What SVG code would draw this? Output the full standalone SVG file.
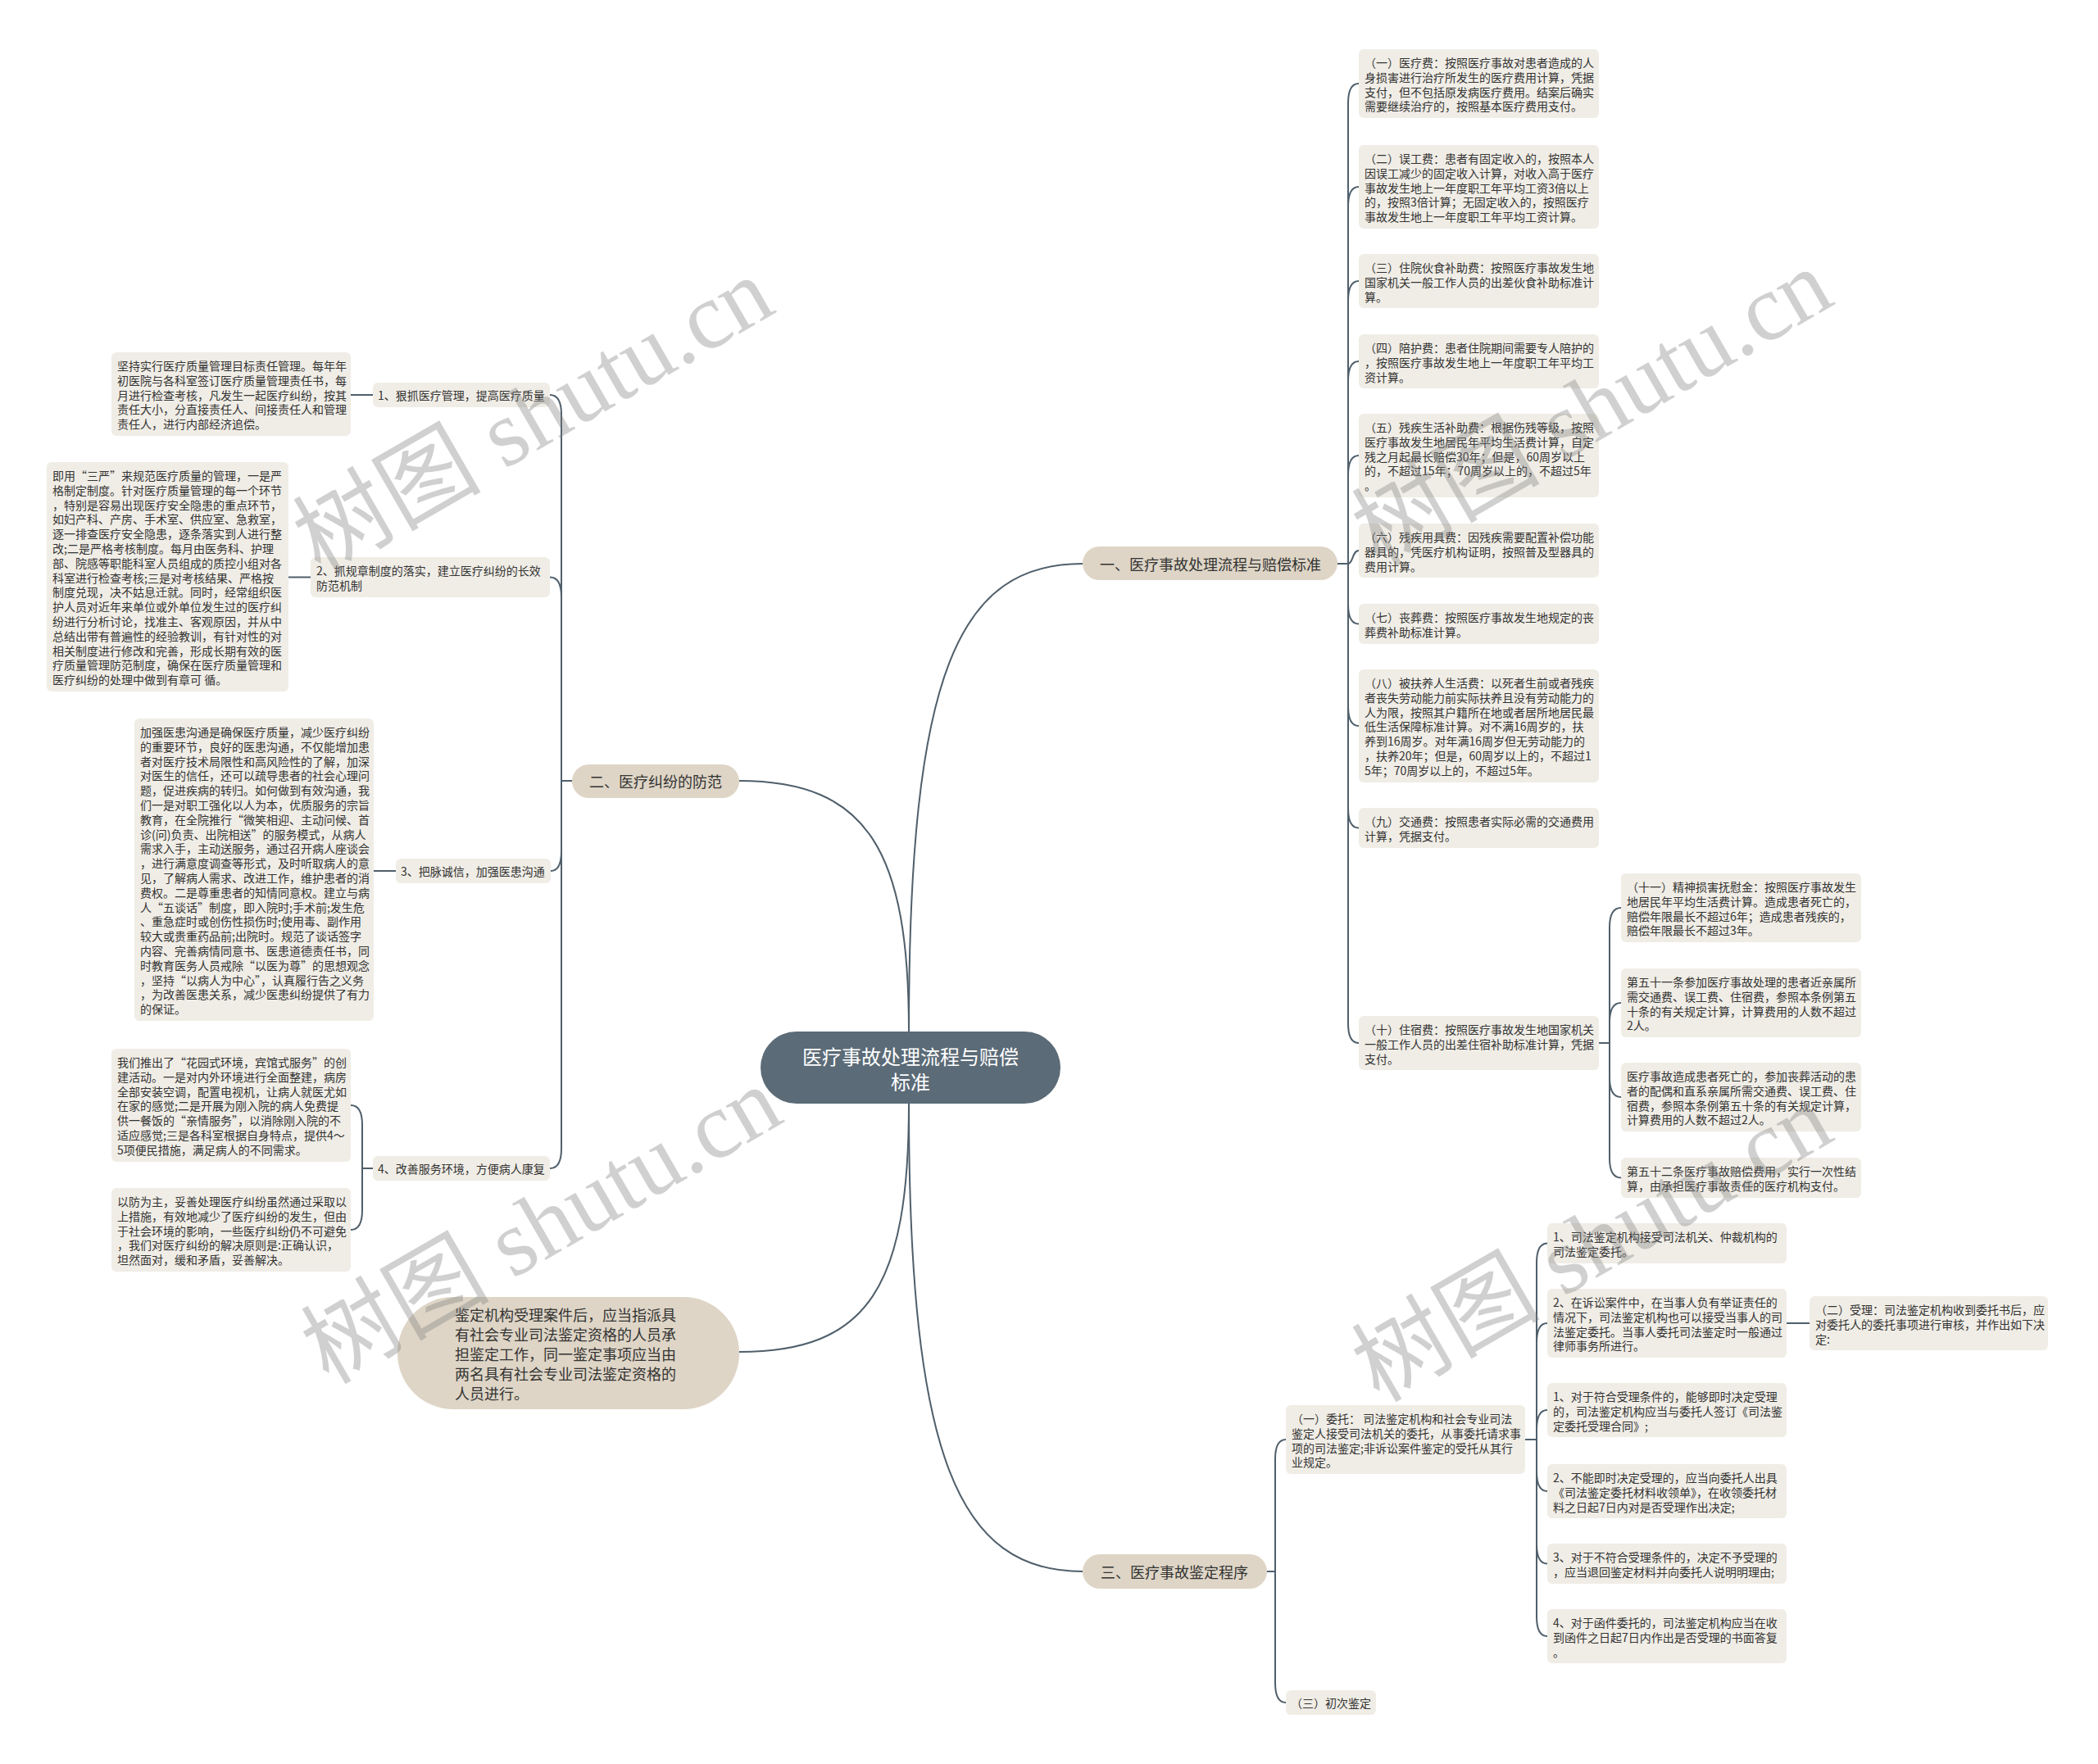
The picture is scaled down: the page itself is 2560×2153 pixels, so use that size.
<svg xmlns="http://www.w3.org/2000/svg" width="2560" height="2153" viewBox="0 0 2560 2153">
<style>
text{font-family:"Noto Sans CJK SC","Liberation Sans",sans-serif;}
.lf{fill:#f0ede6;}
.br{fill:#ded5c6;}
.t{font-size:14px;fill:#333;dominant-baseline:central;}
.bt{font-size:18px;fill:#333;dominant-baseline:central;text-anchor:middle;}
.ct{font-size:24px;fill:#fff;dominant-baseline:central;text-anchor:middle;}
.c{fill:none;stroke:#4f5f6b;stroke-width:2;}
.wm{font-family:"Liberation Serif","Noto Sans CJK SC",serif;font-size:115px;fill:#808080;opacity:0.36;text-anchor:middle;dominant-baseline:central;}
</style>
<rect width="2560" height="2153" fill="#fff"/>
<g id="connectors">
<path class="c" d="M1109 1259 C1109 820 1170 688 1321 688"/>
<path class="c" d="M1109 1259 C1109 1040 1060 953 902 953"/>
<path class="c" d="M1109 1347 C1109 1780 1170 1918 1321 1918"/>
<path class="c" d="M1109 1347 C1109 1570 1060 1650 902 1650"/>
<path class="c" d="M1632 688 H1645 V126 C1645 110 1649 102 1658 102"/>
<path class="c" d="M1632 688 H1645 V252 C1645 236 1649 228 1658 228"/>
<path class="c" d="M1632 688 H1645 V367 C1645 351 1649 343 1658 343"/>
<path class="c" d="M1632 688 H1645 V465 C1645 449 1649 441 1658 441"/>
<path class="c" d="M1632 688 H1645 V580 C1645 564 1649 556 1658 556"/>
<path class="c" d="M1632 688 H1645 C1651 688 1650 672 1658 672"/>
<path class="c" d="M1632 688 H1645 V737.5 C1645 753.5 1649 761.5 1658 761.5"/>
<path class="c" d="M1632 688 H1645 V862 C1645 878 1649 886 1658 886"/>
<path class="c" d="M1632 688 H1645 V986.5 C1645 1002.5 1649 1010.5 1658 1010.5"/>
<path class="c" d="M1632 688 H1645 V1249 C1645 1265 1649 1273 1658 1273"/>
<path class="c" d="M1951 1273 H1964 V1132 C1964 1116 1968 1108 1978 1108"/>
<path class="c" d="M1951 1273 H1964 V1248 C1964 1232 1968 1224 1978 1224"/>
<path class="c" d="M1951 1273 H1964 V1315 C1964 1331 1968 1339 1978 1339"/>
<path class="c" d="M1951 1273 H1964 V1413.5 C1964 1429.5 1968 1437.5 1978 1437.5"/>
<path class="c" d="M1546 1918 H1556 V1781 C1556 1765 1560 1757 1569 1757"/>
<path class="c" d="M1546 1918 H1556 V2054 C1556 2070 1560 2078 1569 2078"/>
<path class="c" d="M1861 1757 H1875 V1541.5 C1875 1525.5 1879 1517.5 1888 1517.5"/>
<path class="c" d="M1861 1757 H1875 V1639 C1875 1623 1879 1615 1888 1615"/>
<path class="c" d="M1861 1757 H1875 V1745 C1875 1729 1879 1721 1888 1721"/>
<path class="c" d="M1861 1757 H1875 V1796 C1875 1812 1879 1820 1888 1820"/>
<path class="c" d="M1861 1757 H1875 V1884.5 C1875 1900.5 1879 1908.5 1888 1908.5"/>
<path class="c" d="M1861 1757 H1875 V1973 C1875 1989 1879 1997 1888 1997"/>
<path class="c" d="M2180 1615 H2208"/>
<path class="c" d="M698 953 H685 V506 C685 490 681 482 671 482"/>
<path class="c" d="M698 953 H685 V728.5 C685 712.5 681 704.5 671 704.5"/>
<path class="c" d="M698 953 H685 V1039 C685 1055 681 1063 672 1063"/>
<path class="c" d="M698 953 H685 V1402 C685 1418 681 1426 671 1426"/>
<path class="c" d="M455 1426 H442 V1373 C442 1357 438 1349 428 1349"/>
<path class="c" d="M455 1426 H442 V1477 C442 1493 438 1501 428 1501"/>
<path class="c" d="M428 482 H455"/>
<path class="c" d="M352 704.5 H379"/>
<path class="c" d="M456 1063 H483"/>
</g>
<g id="root">
<rect x="928" y="1259" width="366" height="88" rx="44" fill="#5b6b77"/>
<text class="ct" x="1111" y="1288">医疗事故处理流程与赔偿</text>
<text class="ct" x="1111" y="1319">标准</text>
</g>
<g id="b1">
<rect class="br" x="1321" y="667" width="311" height="41" rx="20.5"/>
<text class="bt" x="1477" y="688">一、医疗事故处理流程与赔偿标准</text>
</g>
<g id="b2">
<rect class="br" x="698" y="933" width="204" height="41" rx="20.5"/>
<text class="bt" x="800" y="953">二、医疗纠纷的防范</text>
</g>
<g id="b3">
<rect class="br" x="1321" y="1897" width="225" height="42" rx="21"/>
<text class="bt" x="1433" y="1918">三、医疗事故鉴定程序</text>
</g>
<g id="b4">
<rect class="br" x="485" y="1583" width="417" height="137" rx="68"/>
<text class="bt" style="text-anchor:start"><tspan x="555" y="1604">鉴定机构受理案件后，应当指派具</tspan><tspan x="555" y="1628">有社会专业司法鉴定资格的人员承</tspan><tspan x="555" y="1652">担鉴定工作，同一鉴定事项应当由</tspan><tspan x="555" y="1676">两名具有社会专业司法鉴定资格的</tspan><tspan x="555" y="1700">人员进行。</tspan></text>
</g>
<g id="r1">
<rect class="lf" x="1658" y="60" width="293" height="84" rx="6"/>
<text class="t"><tspan x="1665" y="76">（一）医疗费：按照医疗事故对患者造成的人</tspan><tspan x="1665" y="93.8">身损害进行治疗所发生的医疗费用计算，凭据</tspan><tspan x="1665" y="111.6">支付，但不包括原发病医疗费用。结案后确实</tspan><tspan x="1665" y="129.4">需要继续治疗的，按照基本医疗费用支付。</tspan></text>
</g>
<g id="r2">
<rect class="lf" x="1658" y="177" width="293" height="102" rx="6"/>
<text class="t"><tspan x="1665" y="193">（二）误工费：患者有固定收入的，按照本人</tspan><tspan x="1665" y="210.8">因误工减少的固定收入计算，对收入高于医疗</tspan><tspan x="1665" y="228.6">事故发生地上一年度职工年平均工资3倍以上</tspan><tspan x="1665" y="246.4">的，按照3倍计算；无固定收入的，按照医疗</tspan><tspan x="1665" y="264.2">事故发生地上一年度职工年平均工资计算。</tspan></text>
</g>
<g id="r3">
<rect class="lf" x="1658" y="310" width="293" height="66" rx="6"/>
<text class="t"><tspan x="1665" y="326">（三）住院伙食补助费：按照医疗事故发生地</tspan><tspan x="1665" y="343.8">国家机关一般工作人员的出差伙食补助标准计</tspan><tspan x="1665" y="361.6">算。</tspan></text>
</g>
<g id="r4">
<rect class="lf" x="1658" y="408" width="293" height="66" rx="6"/>
<text class="t"><tspan x="1665" y="424">（四）陪护费：患者住院期间需要专人陪护的</tspan><tspan x="1665" y="441.8">，按照医疗事故发生地上一年度职工年平均工</tspan><tspan x="1665" y="459.6">资计算。</tspan></text>
</g>
<g id="r5">
<rect class="lf" x="1658" y="505" width="293" height="102" rx="6"/>
<text class="t"><tspan x="1665" y="521">（五）残疾生活补助费：根据伤残等级，按照</tspan><tspan x="1665" y="538.8">医疗事故发生地居民年平均生活费计算，自定</tspan><tspan x="1665" y="556.6">残之月起最长赔偿30年；但是，60周岁以上</tspan><tspan x="1665" y="574.4">的，不超过15年；70周岁以上的，不超过5年</tspan><tspan x="1665" y="592.2">。</tspan></text>
</g>
<g id="r6">
<rect class="lf" x="1658" y="639" width="293" height="66" rx="6"/>
<text class="t"><tspan x="1665" y="655">（六）残疾用具费：因残疾需要配置补偿功能</tspan><tspan x="1665" y="672.8">器具的，凭医疗机构证明，按照普及型器具的</tspan><tspan x="1665" y="690.6">费用计算。</tspan></text>
</g>
<g id="r7">
<rect class="lf" x="1658" y="737" width="293" height="49" rx="6"/>
<text class="t"><tspan x="1665" y="753">（七）丧葬费：按照医疗事故发生地规定的丧</tspan><tspan x="1665" y="770.8">葬费补助标准计算。</tspan></text>
</g>
<g id="r8">
<rect class="lf" x="1658" y="817" width="293" height="138" rx="6"/>
<text class="t"><tspan x="1665" y="833">（八）被扶养人生活费：以死者生前或者残疾</tspan><tspan x="1665" y="850.8">者丧失劳动能力前实际扶养且没有劳动能力的</tspan><tspan x="1665" y="868.6">人为限，按照其户籍所在地或者居所地居民最</tspan><tspan x="1665" y="886.4">低生活保障标准计算。对不满16周岁的，扶</tspan><tspan x="1665" y="904.2">养到16周岁。对年满16周岁但无劳动能力的</tspan><tspan x="1665" y="922">，扶养20年；但是，60周岁以上的，不超过1</tspan><tspan x="1665" y="939.8">5年；70周岁以上的，不超过5年。</tspan></text>
</g>
<g id="r9">
<rect class="lf" x="1658" y="986" width="293" height="49" rx="6"/>
<text class="t"><tspan x="1665" y="1002">（九）交通费：按照患者实际必需的交通费用</tspan><tspan x="1665" y="1019.8">计算，凭据支付。</tspan></text>
</g>
<g id="r10">
<rect class="lf" x="1658" y="1240" width="293" height="66" rx="6"/>
<text class="t"><tspan x="1665" y="1256">（十）住宿费：按照医疗事故发生地国家机关</tspan><tspan x="1665" y="1273.8">一般工作人员的出差住宿补助标准计算，凭据</tspan><tspan x="1665" y="1291.6">支付。</tspan></text>
</g>
<g id="s1">
<rect class="lf" x="1978" y="1066" width="293" height="84" rx="6"/>
<text class="t"><tspan x="1985" y="1082">（十一）精神损害抚慰金：按照医疗事故发生</tspan><tspan x="1985" y="1099.8">地居民年平均生活费计算。造成患者死亡的，</tspan><tspan x="1985" y="1117.6">赔偿年限最长不超过6年；造成患者残疾的，</tspan><tspan x="1985" y="1135.4">赔偿年限最长不超过3年。</tspan></text>
</g>
<g id="s2">
<rect class="lf" x="1978" y="1182" width="293" height="84" rx="6"/>
<text class="t"><tspan x="1985" y="1198">第五十一条参加医疗事故处理的患者近亲属所</tspan><tspan x="1985" y="1215.8">需交通费、误工费、住宿费，参照本条例第五</tspan><tspan x="1985" y="1233.6">十条的有关规定计算，计算费用的人数不超过</tspan><tspan x="1985" y="1251.4">2人。</tspan></text>
</g>
<g id="s3">
<rect class="lf" x="1978" y="1297" width="293" height="84" rx="6"/>
<text class="t"><tspan x="1985" y="1313">医疗事故造成患者死亡的，参加丧葬活动的患</tspan><tspan x="1985" y="1330.8">者的配偶和直系亲属所需交通费、误工费、住</tspan><tspan x="1985" y="1348.6">宿费，参照本条例第五十条的有关规定计算，</tspan><tspan x="1985" y="1366.4">计算费用的人数不超过2人。</tspan></text>
</g>
<g id="s4">
<rect class="lf" x="1978" y="1413" width="293" height="49" rx="6"/>
<text class="t"><tspan x="1985" y="1429">第五十二条医疗事故赔偿费用，实行一次性结</tspan><tspan x="1985" y="1446.8">算，由承担医疗事故责任的医疗机构支付。</tspan></text>
</g>
<g id="w1">
<rect class="lf" x="1569" y="1715" width="292" height="84" rx="6"/>
<text class="t"><tspan x="1576" y="1731">（一）委托： 司法鉴定机构和社会专业司法</tspan><tspan x="1576" y="1748.8">鉴定人接受司法机关的委托，从事委托请求事</tspan><tspan x="1576" y="1766.6">项的司法鉴定;非诉讼案件鉴定的受托从其行</tspan><tspan x="1576" y="1784.4">业规定。</tspan></text>
</g>
<g id="w3">
<rect class="lf" x="1569" y="2063" width="110" height="30" rx="6"/>
<text class="t" x="1575" y="2078">（三）初次鉴定</text>
</g>
<g id="wa">
<rect class="lf" x="1888" y="1493" width="292" height="49" rx="6"/>
<text class="t"><tspan x="1895" y="1509">1、司法鉴定机构接受司法机关、仲裁机构的</tspan><tspan x="1895" y="1526.8">司法鉴定委托。</tspan></text>
</g>
<g id="wb">
<rect class="lf" x="1888" y="1573" width="292" height="84" rx="6"/>
<text class="t"><tspan x="1895" y="1589">2、在诉讼案件中，在当事人负有举证责任的</tspan><tspan x="1895" y="1606.8">情况下，司法鉴定机构也可以接受当事人的司</tspan><tspan x="1895" y="1624.6">法鉴定委托。当事人委托司法鉴定时一般通过</tspan><tspan x="1895" y="1642.4">律师事务所进行。</tspan></text>
</g>
<g id="wc">
<rect class="lf" x="1888" y="1688" width="292" height="66" rx="6"/>
<text class="t"><tspan x="1895" y="1704">1、对于符合受理条件的，能够即时决定受理</tspan><tspan x="1895" y="1721.8">的，司法鉴定机构应当与委托人签订《司法鉴</tspan><tspan x="1895" y="1739.6">定委托受理合同》;</tspan></text>
</g>
<g id="wd">
<rect class="lf" x="1888" y="1787" width="292" height="66" rx="6"/>
<text class="t"><tspan x="1895" y="1803">2、不能即时决定受理的，应当向委托人出具</tspan><tspan x="1895" y="1820.8">《司法鉴定委托材料收领单》，在收领委托材</tspan><tspan x="1895" y="1838.6">料之日起7日内对是否受理作出决定;</tspan></text>
</g>
<g id="we">
<rect class="lf" x="1888" y="1884" width="292" height="49" rx="6"/>
<text class="t"><tspan x="1895" y="1900">3、对于不符合受理条件的，决定不予受理的</tspan><tspan x="1895" y="1917.8">，应当退回鉴定材料并向委托人说明明理由;</tspan></text>
</g>
<g id="wf">
<rect class="lf" x="1888" y="1964" width="292" height="66" rx="6"/>
<text class="t"><tspan x="1895" y="1980">4、对于函件委托的，司法鉴定机构应当在收</tspan><tspan x="1895" y="1997.8">到函件之日起7日内作出是否受理的书面答复</tspan><tspan x="1895" y="2015.6">。</tspan></text>
</g>
<g id="w2">
<rect class="lf" x="2208" y="1582" width="291" height="66" rx="6"/>
<text class="t"><tspan x="2215" y="1598">（二）受理：司法鉴定机构收到委托书后，应</tspan><tspan x="2215" y="1615.8">对委托人的委托事项进行审核，并作出如下决</tspan><tspan x="2215" y="1633.6">定:</tspan></text>
</g>
<g id="l1">
<rect class="lf" x="455" y="467" width="216" height="30" rx="6"/>
<text class="t" x="461" y="482">1、狠抓医疗管理，提高医疗质量</text>
</g>
<g id="l1a">
<rect class="lf" x="136" y="430" width="292" height="102" rx="6"/>
<text class="t"><tspan x="143" y="446">坚持实行医疗质量管理目标责任管理。每年年</tspan><tspan x="143" y="463.8">初医院与各科室签订医疗质量管理责任书，每</tspan><tspan x="143" y="481.6">月进行检查考核，凡发生一起医疗纠纷，按其</tspan><tspan x="143" y="499.4">责任大小，分直接责任人、间接责任人和管理</tspan><tspan x="143" y="517.2">责任人，进行内部经济追偿。</tspan></text>
</g>
<g id="l2">
<rect class="lf" x="379" y="680" width="292" height="49" rx="6"/>
<text class="t"><tspan x="386" y="696">2、抓规章制度的落实，建立医疗纠纷的长效</tspan><tspan x="386" y="713.8">防范机制</tspan></text>
</g>
<g id="l2a">
<rect class="lf" x="57" y="564" width="295" height="280" rx="6"/>
<text class="t"><tspan x="64" y="580">即用“三严”来规范医疗质量的管理，一是严</tspan><tspan x="64" y="597.8">格制定制度。针对医疗质量管理的每一个环节</tspan><tspan x="64" y="615.6">，特别是容易出现医疗安全隐患的重点环节，</tspan><tspan x="64" y="633.4">如妇产科、产房、手术室、供应室、急救室，</tspan><tspan x="64" y="651.2">逐一排查医疗安全隐患，逐条落实到人进行整</tspan><tspan x="64" y="669">改;二是严格考核制度。每月由医务科、护理</tspan><tspan x="64" y="686.8">部、院感等职能科室人员组成的质控小组对各</tspan><tspan x="64" y="704.6">科室进行检查考核;三是对考核结果、严格按</tspan><tspan x="64" y="722.4">制度兑现，决不姑息迁就。同时，经常组织医</tspan><tspan x="64" y="740.2">护人员对近年来单位或外单位发生过的医疗纠</tspan><tspan x="64" y="758">纷进行分析讨论，找准主、客观原因，并从中</tspan><tspan x="64" y="775.8">总结出带有普遍性的经验教训，有针对性的对</tspan><tspan x="64" y="793.6">相关制度进行修改和完善，形成长期有效的医</tspan><tspan x="64" y="811.4">疗质量管理防范制度，确保在医疗质量管理和</tspan><tspan x="64" y="829.2">医疗纠纷的处理中做到有章可 循。</tspan></text>
</g>
<g id="l3">
<rect class="lf" x="483" y="1048" width="189" height="30" rx="6"/>
<text class="t" x="489" y="1063">3、把脉诚信，加强医患沟通</text>
</g>
<g id="l3a">
<rect class="lf" x="164" y="877" width="292" height="369" rx="6"/>
<text class="t"><tspan x="171" y="893">加强医患沟通是确保医疗质量，减少医疗纠纷</tspan><tspan x="171" y="910.8">的重要环节，良好的医患沟通，不仅能增加患</tspan><tspan x="171" y="928.6">者对医疗技术局限性和高风险性的了解，加深</tspan><tspan x="171" y="946.4">对医生的信任，还可以疏导患者的社会心理问</tspan><tspan x="171" y="964.2">题，促进疾病的转归。如何做到有效沟通，我</tspan><tspan x="171" y="982">们一是对职工强化以人为本，优质服务的宗旨</tspan><tspan x="171" y="999.8">教育，在全院推行“微笑相迎、主动问候、首</tspan><tspan x="171" y="1017.6">诊(问)负责、出院相送”的服务模式，从病人</tspan><tspan x="171" y="1035.4">需求入手，主动送服务，通过召开病人座谈会</tspan><tspan x="171" y="1053.2">，进行满意度调查等形式，及时听取病人的意</tspan><tspan x="171" y="1071">见，了解病人需求、改进工作，维护患者的消</tspan><tspan x="171" y="1088.8">费权。二是尊重患者的知情同意权。建立与病</tspan><tspan x="171" y="1106.6">人“五谈话”制度，即入院时;手术前;发生危</tspan><tspan x="171" y="1124.4">、重急症时或创伤性损伤时;使用毒、副作用</tspan><tspan x="171" y="1142.2">较大或贵重药品前;出院时。规范了谈话签字</tspan><tspan x="171" y="1160">内容、完善病情同意书、医患道德责任书，同</tspan><tspan x="171" y="1177.8">时教育医务人员戒除“以医为尊”的思想观念</tspan><tspan x="171" y="1195.6">，坚持“以病人为中心”，认真履行告之义务</tspan><tspan x="171" y="1213.4">，为改善医患关系，减少医患纠纷提供了有力</tspan><tspan x="171" y="1231.2">的保证。</tspan></text>
</g>
<g id="l4">
<rect class="lf" x="455" y="1411" width="216" height="30" rx="6"/>
<text class="t" x="461" y="1426">4、改善服务环境，方便病人康复</text>
</g>
<g id="l4a">
<rect class="lf" x="136" y="1280" width="292" height="138" rx="6"/>
<text class="t"><tspan x="143" y="1296">我们推出了“花园式环境，宾馆式服务”的创</tspan><tspan x="143" y="1313.8">建活动。一是对内外环境进行全面整建，病房</tspan><tspan x="143" y="1331.6">全部安装空调，配置电视机，让病人就医尤如</tspan><tspan x="143" y="1349.4">在家的感觉;二是开展为刚入院的病人免费提</tspan><tspan x="143" y="1367.2">供一餐饭的“亲情服务”，以消除刚入院的不</tspan><tspan x="143" y="1385">适应感觉;三是各科室根据自身特点，提供4～</tspan><tspan x="143" y="1402.8">5项便民措施，满足病人的不同需求。</tspan></text>
</g>
<g id="l4b">
<rect class="lf" x="136" y="1450" width="292" height="102" rx="6"/>
<text class="t"><tspan x="143" y="1466">以防为主，妥善处理医疗纠纷虽然通过采取以</tspan><tspan x="143" y="1483.8">上措施，有效地减少了医疗纠纷的发生，但由</tspan><tspan x="143" y="1501.6">于社会环境的影响，一些医疗纠纷仍不可避免</tspan><tspan x="143" y="1519.4">，我们对医疗纠纷的解决原则是:正确认识，</tspan><tspan x="143" y="1537.2">坦然面对，缓和矛盾，妥善解决。</tspan></text>
</g>
<g id="watermarks">
<text class="wm" transform="translate(651 508) rotate(-30)">树图 shutu.cn</text>
<text class="wm" transform="translate(1943 498) rotate(-30)">树图 shutu.cn</text>
<text class="wm" transform="translate(661 1496) rotate(-30)">树图 shutu.cn</text>
<text class="wm" transform="translate(1943 1518) rotate(-30)">树图 shutu.cn</text>
</g>
</svg>
